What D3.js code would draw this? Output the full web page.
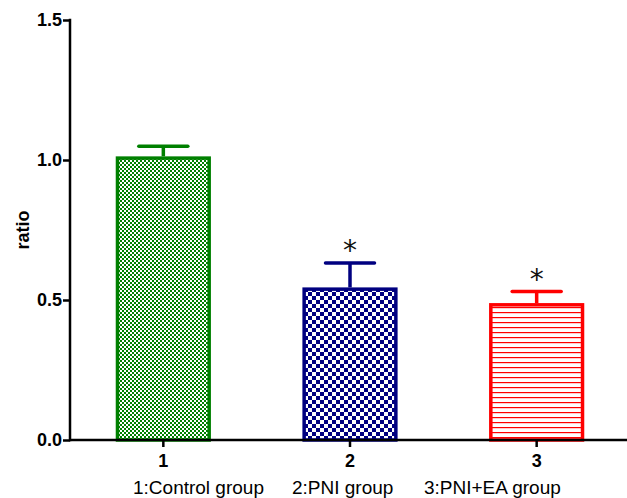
<!DOCTYPE html>
<html><head><meta charset="utf-8">
<script src="https://cdn.jsdelivr.net/npm/d3@7"></script>
<style>body{margin:0;background:#fff}svg{display:block}text{font-family:"Liberation Sans",Arial,sans-serif}</style>
</head><body>
<script>
const categories = ["1", "2", "3"];
const values = [1.013, 0.545, 0.489];
const errors = [0.036, 0.087, 0.041];
const significance = ["", "*", "*"];
const groupNames = ["1:Control group", "2:PNI group", "3:PNI+EA group"];
const yTicks = [0.0, 0.5, 1.0, 1.5];
const colors = ["#008000", "#000080", "#ff0000"];

const W = 627, H = 498;
const svg = d3.select("body").append("svg").attr("width", W).attr("height", H);
const defs = svg.append("defs");

// patterns
const p1 = defs.append("pattern").attr("id","pat0").attr("patternUnits","userSpaceOnUse").attr("width",4).attr("height",4);
p1.append("rect").attr("width",4).attr("height",4).attr("fill","#fff");
p1.append("rect").attr("width",2).attr("height",2).attr("fill",colors[0]);
p1.append("rect").attr("x",2).attr("y",2).attr("width",2).attr("height",2).attr("fill",colors[0]);
const p2 = defs.append("pattern").attr("id","pat1").attr("patternUnits","userSpaceOnUse").attr("width",8).attr("height",8);
p2.append("rect").attr("width",8).attr("height",8).attr("fill","#fff");
p2.append("rect").attr("width",4).attr("height",4).attr("fill",colors[1]);
p2.append("rect").attr("x",4).attr("y",4).attr("width",4).attr("height",4).attr("fill",colors[1]);
const p3 = defs.append("pattern").attr("id","pat2").attr("patternUnits","userSpaceOnUse").attr("width",5).attr("height",5);
p3.append("rect").attr("width",5).attr("height",5).attr("fill","#fff");
p3.append("rect").attr("y",2).attr("width",5).attr("height",1.2).attr("fill",colors[2]);

const x = d3.scaleBand().domain(categories).range([70, 630]).paddingInner(0.49).paddingOuter(0.245);
const y = d3.scaleLinear().domain([0, 1.5]).range([440, 20]);

const data = categories.map((c,i)=>({c, v:values[i], e:errors[i], s:significance[i], col:colors[i], i}));

// bars
const sw = 3.5;
svg.selectAll("rect.bar").data(data).join("rect").attr("class","bar")
  .attr("x", d=>x(d.c)+sw/2).attr("width", x.bandwidth()-sw)
  .attr("y", d=>y(d.v)+sw/2).attr("height", d=>y(0)-y(d.v)-sw/2)
  .attr("fill", d=>`url(#pat${d.i})`).attr("stroke", d=>d.col).attr("stroke-width", sw);

// error bars
const cx = d=>x(d.c)+x.bandwidth()/2;
svg.selectAll("line.err").data(data).join("line").attr("class","err")
  .attr("x1",cx).attr("x2",cx).attr("y1",d=>y(d.v)).attr("y2",d=>y(d.v+d.e))
  .attr("stroke",d=>d.col).attr("stroke-width",3.5);
svg.selectAll("line.cap").data(data).join("line").attr("class","cap")
  .attr("x1",d=>cx(d)-24.5).attr("x2",d=>cx(d)+24.5).attr("y1",d=>y(d.v+d.e)).attr("y2",d=>y(d.v+d.e))
  .attr("stroke",d=>d.col).attr("stroke-width",3.5).attr("stroke-linecap","round");
svg.selectAll("text.sig").data(data).join("text").attr("class","sig")
  .attr("x",cx).attr("y",d=>y(d.v+d.e)-3).attr("text-anchor","middle")
  .attr("font-size",28).attr("fill","#111").style("font-family","'DejaVu Sans',sans-serif").text(d=>d.s);

// axes
const yAxis = svg.append("g").attr("transform","translate(70,0)")
  .call(d3.axisLeft(y).tickValues(yTicks).tickFormat(d3.format(".1f")).tickSize(7).tickPadding(1));
const xAxis = svg.append("g").attr("transform","translate(0,440)")
  .call(d3.axisBottom(x).tickSize(7).tickPadding(7));
[yAxis, xAxis].forEach(g=>{
  g.select(".domain").remove();
  g.selectAll("line").attr("stroke","#000").attr("stroke-width",2.5);
  g.selectAll("text").attr("fill","#000").attr("font-weight","bold").attr("font-size",18)
    .style("font-family","'Liberation Sans',Arial,sans-serif");
});
svg.append("line").attr("x1",70).attr("x2",70).attr("y1",y(1.5)-1.25).attr("y2",y(0)+1.25).attr("stroke","#000").attr("stroke-width",2.5);
svg.append("line").attr("x1",70).attr("x2",627).attr("y1",y(0)).attr("y2",y(0)).attr("stroke","#000").attr("stroke-width",2.5);

// y label
svg.append("text").attr("transform",`translate(29,${(y(0)+y(1.5))/2}) rotate(-90)`).attr("text-anchor","middle")
  .attr("font-weight","bold").attr("font-size",18).text("ratio");

// group names caption
const capStarts = [133, 292, 424];
svg.selectAll("text.cap").data(groupNames).join("text").attr("class","cap")
  .attr("x",(d,i)=>capStarts[i]).attr("y",494).attr("font-size",19).attr("fill","#000").text(d=>d);
</script>
</body></html>
